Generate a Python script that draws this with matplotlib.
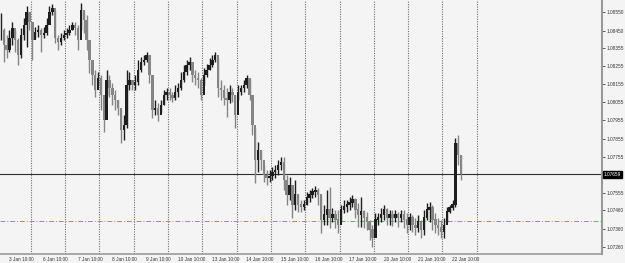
import numpy as np
import matplotlib
matplotlib.use("Agg")
import matplotlib.pyplot as plt

# 2-hour bars (open = previous close)
closes = [1.08453, 1.08370, 1.08343, 1.08409, 1.08464, 1.08398, 1.08315, 1.08425, 1.08480, 1.08552,
          1.08497, 1.08398, 1.08442, 1.08453, 1.08425, 1.08436, 1.08480, 1.08552, 1.08574, 1.08409,
          1.08387, 1.08409, 1.08425, 1.08436, 1.08453, 1.08480, 1.08464, 1.08398, 1.08563, 1.08508,
          1.08398, 1.08288, 1.08205, 1.08123, 1.08189, 1.08095, 1.07958, 1.08178, 1.08134, 1.08095,
          1.08068, 1.08024, 1.07903, 1.07930, 1.08150, 1.08178, 1.08150, 1.08167, 1.08233, 1.08277,
          1.08288, 1.08315, 1.08205, 1.08013, 1.08024, 1.07985, 1.08040, 1.08095, 1.08112, 1.08095,
          1.08079, 1.08112, 1.08134, 1.08178, 1.08222, 1.08260, 1.08277, 1.08205, 1.08189, 1.08178,
          1.08095, 1.08205, 1.08233, 1.08260, 1.08288, 1.08315, 1.08134, 1.08123, 1.08079, 1.08068,
          1.08112, 1.08095, 1.07985, 1.08112, 1.08134, 1.08150, 1.08189, 1.08095, 1.07930, 1.07738,
          1.07793, 1.07738, 1.07655, 1.07639, 1.07650, 1.07672, 1.07683, 1.07710, 1.07727, 1.07628,
          1.07546, 1.07600, 1.07491, 1.07546, 1.07491, 1.07480, 1.07491, 1.07529, 1.07546, 1.07562,
          1.07573, 1.07546, 1.07408, 1.07436, 1.07463, 1.07419, 1.07436, 1.07408, 1.07380, 1.07463,
          1.07480, 1.07491, 1.07502, 1.07518, 1.07463, 1.07436, 1.07452, 1.07419, 1.07397, 1.07353,
          1.07309, 1.07408, 1.07419, 1.07436, 1.07463, 1.07419, 1.07436, 1.07419, 1.07436, 1.07419,
          1.07436, 1.07408, 1.07380, 1.07419, 1.07380, 1.07364, 1.07397, 1.07353, 1.07419, 1.07463,
          1.07474, 1.07408, 1.07380, 1.07364, 1.07342, 1.07380, 1.07452, 1.07474, 1.07491, 1.07831,
          1.07765, 1.07659]
highs = [1.08546, 1.08464, 1.08425, 1.08453, 1.08497, 1.08453, 1.08409, 1.08464, 1.08519, 1.08585,
         1.08535, 1.08480, 1.08469, 1.08480, 1.08464, 1.08469, 1.08519, 1.08585, 1.08596, 1.08563,
         1.08425, 1.08436, 1.08453, 1.08464, 1.08480, 1.08497, 1.08497, 1.08480, 1.08601, 1.08552,
         1.08535, 1.08370, 1.08260, 1.08233, 1.08222, 1.08205, 1.08068, 1.08233, 1.08205, 1.08161,
         1.08123, 1.08068, 1.08013, 1.07985, 1.08233, 1.08222, 1.08178, 1.08205, 1.08288, 1.08304,
         1.08315, 1.08332, 1.08299, 1.08178, 1.08068, 1.08051, 1.08068, 1.08123, 1.08134, 1.08134,
         1.08112, 1.08150, 1.08161, 1.08222, 1.08260, 1.08288, 1.08304, 1.08260, 1.08233, 1.08222,
         1.08189, 1.08244, 1.08266, 1.08299, 1.08315, 1.08332, 1.08299, 1.08178, 1.08150, 1.08134,
         1.08150, 1.08134, 1.08095, 1.08150, 1.08150, 1.08178, 1.08205, 1.08189, 1.08084, 1.07914,
         1.07837, 1.07793, 1.07710, 1.07683, 1.07683, 1.07699, 1.07710, 1.07738, 1.07754, 1.07754,
         1.07655, 1.07644, 1.07600, 1.07628, 1.07546, 1.07518, 1.07518, 1.07562, 1.07573, 1.07584,
         1.07595, 1.07584, 1.07546, 1.07491, 1.07573, 1.07590, 1.07474, 1.07463, 1.07463, 1.07491,
         1.07518, 1.07518, 1.07535, 1.07546, 1.07529, 1.07502, 1.07535, 1.07463, 1.07452, 1.07408,
         1.07380, 1.07447, 1.07447, 1.07474, 1.07491, 1.07474, 1.07463, 1.07463, 1.07463, 1.07452,
         1.07463, 1.07463, 1.07447, 1.07447, 1.07436, 1.07419, 1.07436, 1.07408, 1.07463, 1.07502,
         1.07507, 1.07491, 1.07447, 1.07419, 1.07408, 1.07419, 1.07480, 1.07491, 1.07518, 1.07859,
         1.07875, 1.07765]
lows = [1.08398, 1.08277, 1.08299, 1.08332, 1.08370, 1.08332, 1.08260, 1.08299, 1.08398, 1.08359,
        1.08453, 1.08288, 1.08409, 1.08414, 1.08332, 1.08409, 1.08425, 1.08497, 1.08535, 1.08381,
        1.08343, 1.08370, 1.08398, 1.08409, 1.08425, 1.08453, 1.08425, 1.08343, 1.08453, 1.08436,
        1.08343, 1.08216, 1.08150, 1.08084, 1.08150, 1.08013, 1.07892, 1.08095, 1.08084, 1.08040,
        1.08013, 1.07985, 1.07831, 1.07848, 1.07914, 1.08123, 1.08123, 1.08123, 1.08150, 1.08222,
        1.08260, 1.08277, 1.08161, 1.07969, 1.07985, 1.07952, 1.08002, 1.08040, 1.08068, 1.08068,
        1.08057, 1.08068, 1.08084, 1.08123, 1.08167, 1.08205, 1.08233, 1.08167, 1.08150, 1.08134,
        1.08068, 1.08150, 1.08194, 1.08233, 1.08249, 1.08277, 1.08084, 1.08068, 1.08040, 1.07974,
        1.08051, 1.08057, 1.07914, 1.08068, 1.08095, 1.08112, 1.08134, 1.08068, 1.07875, 1.07611,
        1.07672, 1.07683, 1.07617, 1.07600, 1.07617, 1.07628, 1.07639, 1.07655, 1.07683, 1.07573,
        1.07491, 1.07518, 1.07419, 1.07463, 1.07452, 1.07452, 1.07463, 1.07491, 1.07507, 1.07529,
        1.07535, 1.07491, 1.07337, 1.07380, 1.07380, 1.07364, 1.07397, 1.07364, 1.07337, 1.07397,
        1.07447, 1.07452, 1.07463, 1.07480, 1.07419, 1.07370, 1.07370, 1.07364, 1.07353, 1.07298,
        1.07260, 1.07353, 1.07380, 1.07397, 1.07408, 1.07380, 1.07380, 1.07375, 1.07397, 1.07370,
        1.07397, 1.07364, 1.07337, 1.07353, 1.07342, 1.07326, 1.07342, 1.07309, 1.07326, 1.07408,
        1.07397, 1.07353, 1.07337, 1.07326, 1.07309, 1.07309, 1.07397, 1.07447, 1.07463, 1.07480,
        1.07710, 1.07628]

day_labels = ["3 Jan 10:00", "6 Jan 10:00", "7 Jan 10:00", "8 Jan 10:00", "9 Jan 10:00",
              "10 Jan 10:00", "13 Jan 10:00", "14 Jan 10:00", "15 Jan 10:00", "16 Jan 10:00",
              "17 Jan 10:00", "20 Jan 10:00", "21 Jan 10:00", "22 Jan 10:00"]
price_ticks = [1.08550, 1.08450, 1.08355, 1.08255, 1.08155, 1.08055, 1.07955,
               1.07855, 1.07755, 1.07555, 1.07460, 1.07360, 1.07260]
bid_price = 1.07659
level_price = 1.07401

bars_per_day = 12
first_day_bar = 10.5

bg = "#f4f4f4"
fig = plt.figure(figsize=(6.25, 2.63), dpi=100, facecolor=bg)
ax = fig.add_axes([0, 9 / 263, 602 / 625, 254 / 263])
ax.set_facecolor(bg)

n = len(closes)
x = np.arange(n)
opens = np.array([closes[0]] + closes[:-1])
closes_a = np.array(closes)
up = closes_a >= opens
cols = np.where(up, "#1e1e1e", "#858585")

ax.vlines(x, lows, highs, colors=cols, linewidth=1.0, zorder=3)
ax.bar(x, np.abs(closes_a - opens) + 0.00002, bottom=np.minimum(opens, closes_a),
       width=0.85, color=cols, linewidth=0, zorder=3)

# day separators
for k in range(len(day_labels)):
    xl = first_day_bar + k * bars_per_day
    ax.axvline(xl, color="#707070", linewidth=0.8, linestyle=(0, (1, 1.2)), zorder=1)
    ax.text(xl + 1.0, -0.012, day_labels[k], transform=ax.get_xaxis_transform(),
            ha="right", va="top", fontsize=3.4, color="#333333", family="Liberation Sans")

ax.axhline(bid_price, color="#303030", linewidth=0.8, zorder=2)
ax.axhline(level_price, color="#5cb85c", linewidth=0.7, linestyle=(0, (5, 2, 1, 2)), zorder=2)

ax.set_xlim(-0.3, 210.3)
ax.set_ylim(1.07220, 1.08618)

ax.yaxis.tick_right()
ax.set_yticks(price_ticks)
ax.set_yticklabels(["%.5f" % p for p in price_ticks])
ax.tick_params(axis="y", length=2, width=0.6, color="#404040", pad=1.5,
               labelsize=3.4, labelcolor="#333333")
for lab in ax.get_yticklabels():
    lab.set_family("Liberation Sans")
ax.set_xticks([])

ax.text(1.003, bid_price, "%.5f" % bid_price, transform=ax.get_yaxis_transform(),
        ha="left", va="center", fontsize=3.4, color="white", family="Liberation Sans",
        bbox=dict(boxstyle="square,pad=0.25", fc="black", ec="black"))

for s in ["top", "left"]:
    ax.spines[s].set_visible(False)
ax.spines["right"].set_color("#9a9a9a")
ax.spines["right"].set_linewidth(1.5)
ax.spines["bottom"].set_color("#9a9a9a")
ax.spines["bottom"].set_linewidth(1.2)

fig.savefig("out.png", dpi=100, facecolor=bg)
